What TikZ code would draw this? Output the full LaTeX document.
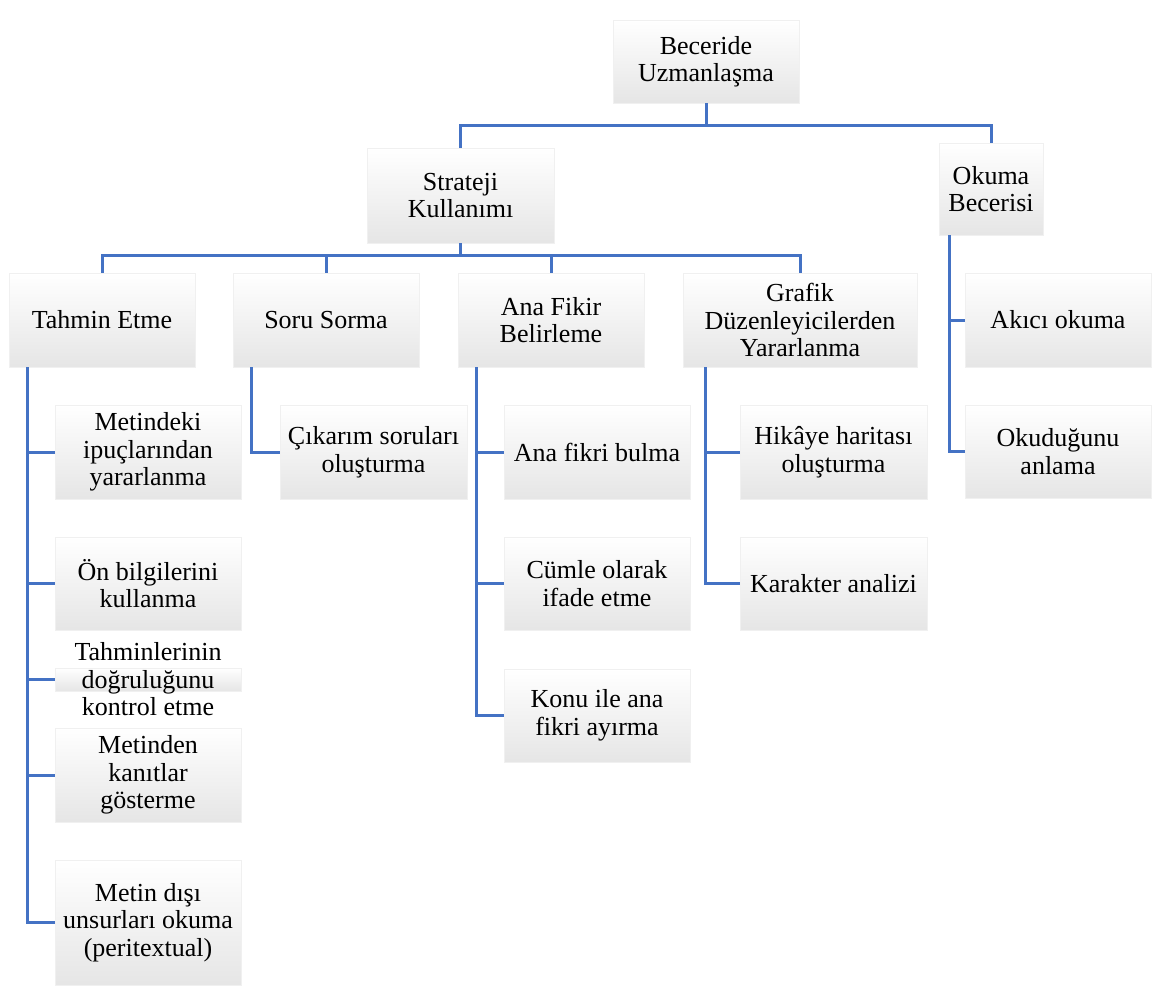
\documentclass[tikz,border=0pt]{standalone}
\usepackage{fontspec}
\setmainfont{Liberation Serif}
\definecolor{hat}{RGB}{68,114,196}
\tikzset{
  kutu/.style={rectangle, inner sep=0pt, draw=gray!12, line width=0.6pt,
    top color=white, middle color=white!96!gray, bottom color=gray!20,
    minimum width=186pt, minimum height=94pt},
  yazi/.style={align=center, inner sep=0pt, font=\fontsize{26}{27.5}\selectfont},
  baglanti/.style={draw=hat, line width=3pt}
}
\begin{document}
\begin{tikzpicture}[x=1pt,y=-1pt]
\useasboundingbox (0,0) rectangle (1160,990);

% kutular
\node[kutu, minimum height=83pt] (kok) at (706,61.5) {};
\node[kutu, minimum width=187pt, minimum height=95pt] (strateji) at (460.5,195.5) {};
\node[kutu, minimum width=104pt, minimum height=92pt] (okuma) at (991,189) {};

\node[kutu] (tahmin) at (102,320) {};
\node[kutu] (soru) at (326,320) {};
\node[kutu] (anafikir) at (551,320) {};
\node[kutu, minimum width=234pt] (grafik) at (800,320) {};

\node[kutu] (ipucu) at (148,452) {};
\node[kutu, minimum height=93pt] (onbilgi) at (148,583.5) {};
\node[kutu, minimum height=23pt] (dogruluk) at (148,679.5) {};
\node[kutu] (kanit) at (148,775) {};
\node[kutu, minimum height=125pt] (disi) at (148,922.5) {};

\node[kutu, minimum width=187pt] (cikarim) at (373.5,452) {};

\node[kutu] (bulma) at (597,452) {};
\node[kutu, minimum height=93pt] (cumle) at (597,583.5) {};
\node[kutu, minimum height=93pt] (ayirma) at (597,715.5) {};

\node[kutu, minimum width=187pt] (harita) at (833.5,452) {};
\node[kutu, minimum width=187pt, minimum height=93pt] (karakter) at (833.5,583.5) {};

\node[kutu] (akici) at (1058,320) {};
\node[kutu, minimum height=93pt] (anlama) at (1058,451.5) {};

% yazilar
\node[yazi] at (kok) {Beceride\\Uzmanlaşma};
\node[yazi] at (strateji) {Strateji\\Kullanımı};
\node[yazi] at (okuma) {Okuma\\Becerisi};
\node[yazi] at (tahmin) {Tahmin Etme};
\node[yazi] at (soru) {Soru Sorma};
\node[yazi] at (anafikir) {Ana Fikir\\Belirleme};
\node[yazi] at (grafik) {Grafik\\Düzenleyicilerden\\Yararlanma};
\node[yazi] at (ipucu) {Metindeki\\ipuçlarından\\yararlanma};
\node[yazi] at (onbilgi) {Ön bilgilerini\\kullanma};
\node[yazi] at (dogruluk) {Tahminlerinin\\doğruluğunu\\kontrol etme};
\node[yazi] at (kanit) {Metinden\\kanıtlar\\gösterme};
\node[yazi] at (disi) {Metin dışı\\unsurları okuma\\(peritextual)};
\node[yazi] at (cikarim) {Çıkarım soruları\\oluşturma};
\node[yazi] at (bulma) {Ana fikri bulma};
\node[yazi] at (cumle) {Cümle olarak\\ifade etme};
\node[yazi] at (ayirma) {Konu ile ana\\fikri ayırma};
\node[yazi] at (harita) {Hikâye haritası\\oluşturma};
\node[yazi] at (karakter) {Karakter analizi};
\node[yazi] at (akici) {Akıcı okuma};
\node[yazi] at (anlama) {Okuduğunu\\anlama};

% baglantilar
\draw[baglanti] (kok.south) -- ++(0,22) -| (strateji.north);
\draw[baglanti] (kok.south) ++(0,22) -| (okuma.north);

\draw[baglanti] (strateji.south) -- ++(0,12) -| (tahmin.north);
\foreach \n in {soru,anafikir,grafik}
  \draw[baglanti] (strateji.south) ++(0,12) -| (\n.north);

\foreach \n in {ipucu,onbilgi,dogruluk,kanit,disi}
  \draw[baglanti] ([xshift=19pt]tahmin.south west) |- (\n.west);
\draw[baglanti] ([xshift=19pt]soru.south west) |- (cikarim.west);
\foreach \n in {bulma,cumle,ayirma}
  \draw[baglanti] ([xshift=19pt]anafikir.south west) |- (\n.west);
\foreach \n in {harita,karakter}
  \draw[baglanti] ([xshift=23pt]grafik.south west) |- (\n.west);
\foreach \n in {akici,anlama}
  \draw[baglanti] ([xshift=11pt]okuma.south west) |- (\n.west);
\end{tikzpicture}
\end{document}
